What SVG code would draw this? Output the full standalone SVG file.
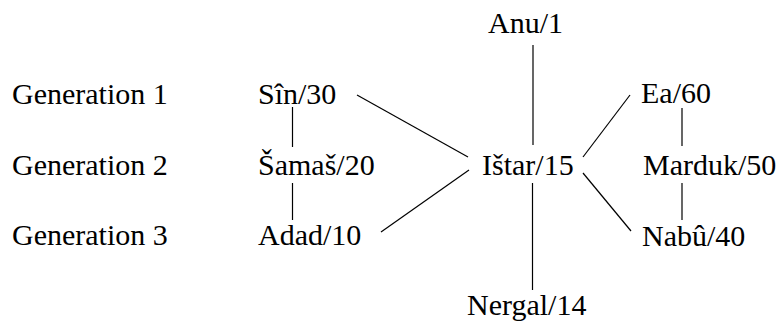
<svg xmlns="http://www.w3.org/2000/svg" width="782" height="322" viewBox="0 0 782 322">
<style>
text{font-family:'Liberation Serif','Times New Roman',Tinos,'DejaVu Serif',serif;font-size:30px;fill:#000}
.c line{stroke:#000;stroke-width:1.2}
</style>
<rect width="782" height="322" fill="#fff"/>
<g id="labels">
<text x="12" y="104">Generation 1</text>
<text x="12" y="175">Generation 2</text>
<text x="12" y="245">Generation 3</text>
</g>
<g class="c" id="connectors">
<line x1="292.5" y1="107" x2="292.5" y2="147"/>
<line x1="292.5" y1="183" x2="292.5" y2="220"/>
<line x1="357" y1="95" x2="468" y2="157"/>
<line x1="381" y1="232" x2="469" y2="170"/>
<line x1="533" y1="45" x2="533" y2="145"/>
<line x1="532.5" y1="183" x2="532.5" y2="290"/>
<line x1="583" y1="157" x2="630" y2="95"/>
<line x1="583" y1="173" x2="631" y2="231"/>
<line x1="682" y1="108" x2="682" y2="146"/>
<line x1="682" y1="183" x2="682" y2="220"/>
</g>
<g id="anu"><text x="488" y="33">Anu/1</text></g>
<g id="sin"><text x="258" y="104">Sîn/30</text></g>
<g id="samas"><text x="258" y="175">Šamaš/20</text></g>
<g id="adad"><text x="258" y="245">Adad/10</text></g>
<g id="istar"><text x="482" y="175">Ištar/15</text></g>
<g id="nergal"><text x="467" y="315">Nergal/14</text></g>
<g id="ea"><text x="641" y="103">Ea/60</text></g>
<g id="marduk"><text x="643" y="175">Marduk/50</text></g>
<g id="nabu"><text x="642" y="246">Nabû/40</text></g>
</svg>
